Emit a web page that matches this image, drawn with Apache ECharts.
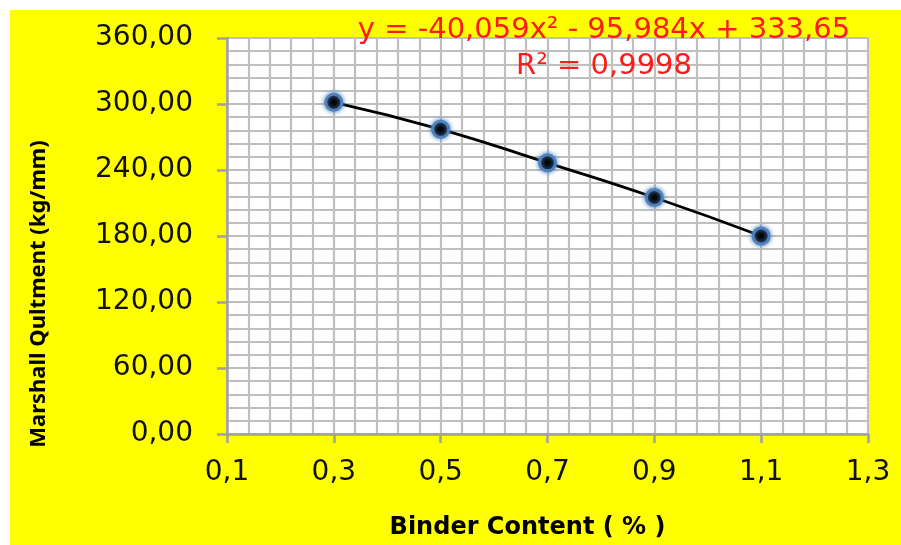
<!DOCTYPE html>
<html>
<head>
<meta charset="utf-8">
<script src="https://cdn.jsdelivr.net/npm/echarts@6/dist/echarts.min.js"></script>
<style>
html,body{margin:0;padding:0;background:#fff;}
#wrap{position:relative;width:901px;height:545px;background:#fff;overflow:hidden;}
#chart{position:absolute;left:10px;top:10px;width:891px;height:535px;}
</style>
</head>
<body>
<div id="wrap"><div id="chart"></div></div>
<script>
const binderContent = [0.3, 0.5, 0.7, 0.9, 1.1];
const marshallQuotient = [301.5, 277, 246.5, 215, 180];
const equationText = 'y = -40,059x\u00B2 - 95,984x + 333,65';
const r2Text = 'R\u00B2 = 0,9998';
const xTitle = 'Binder Content ( % )';
const yTitle = 'Marshall Qultment (kg/mm)';

const chart = echarts.init(document.getElementById('chart'));
const gridColor = '#bfbfbf';
const axisColor = '#a0a0a0';
const labelFont = 'DejaVu Sans';

chart.setOption({
  backgroundColor: '#ffff00',
  animation: false,
  grid: {left: 217, top: 28, right: 33, bottom: 109, show: true, backgroundColor: '#ffffff', borderWidth: 0},
  xAxis: {
    type: 'value', min: 0.1, max: 1.3, interval: 0.2,
    name: xTitle, nameLocation: 'middle', nameGap: 82,
    nameTextStyle: {fontFamily: labelFont, fontWeight: 'bold', fontSize: 24, color: '#000', padding: [0, 40, 0, 0]},
    axisLine: {show: true, lineStyle: {color: axisColor, width: 2.5}},
    axisTick: {show: true, inside: false, length: 9, lineStyle: {color: axisColor, width: 2.5}},
    axisLabel: {margin: 25, fontFamily: labelFont, fontSize: 28, color: '#111',
      formatter: v => v.toFixed(1).replace('.', ',')},
    splitLine: {show: true, lineStyle: {color: gridColor, width: 2.2}},
    minorTick: {show: false, splitNumber: 5},
    minorSplitLine: {show: true, lineStyle: {color: gridColor, width: 2.2}}
  },
  yAxis: {
    type: 'value', min: 0, max: 360, interval: 60,
    name: yTitle, nameLocation: 'middle', nameGap: 177, nameRotate: 90,
    nameTextStyle: {fontFamily: 'Noto Sans', fontWeight: 'bold', fontSize: 22, color: '#000', padding: [0, 116, 0, 0]},
    axisLine: {show: true, lineStyle: {color: axisColor, width: 2.5}},
    axisTick: {show: true, inside: false, length: 10, lineStyle: {color: axisColor, width: 2.5}},
    axisLabel: {margin: 34, fontFamily: labelFont, fontSize: 28, color: '#111',
      formatter: v => v.toFixed(2).replace('.', ',')},
    splitLine: {show: true, lineStyle: {color: gridColor, width: 2.2}},
    minorTick: {show: false, splitNumber: 5},
    minorSplitLine: {show: true, lineStyle: {color: gridColor, width: 2.2}}
  },
  series: [{
    type: 'line',
    data: binderContent.map((x, i) => [x, marshallQuotient[i]]),
    smooth: true,
    lineStyle: {color: '#000', width: 2.8},
    symbol: 'circle',
    symbolSize: 16,
    itemStyle: {color: '#000', borderColor: '#4f81bd', borderWidth: 3, shadowBlur: 5, shadowColor: '#4f81bd'},
    z: 5
  }],
  graphic: [
    {type: 'text', z: 100, x: 594, y: 20, silent: true,
     style: {text: equationText, fontFamily: labelFont, fontSize: 29, fill: '#ff1a1a', align: 'center', verticalAlign: 'middle'}},
    {type: 'text', z: 100, x: 594, y: 56, silent: true,
     style: {text: r2Text, fontFamily: labelFont, fontSize: 29, fill: '#ff1a1a', align: 'center', verticalAlign: 'middle'}}
  ]
});
</script>
</body>
</html>
